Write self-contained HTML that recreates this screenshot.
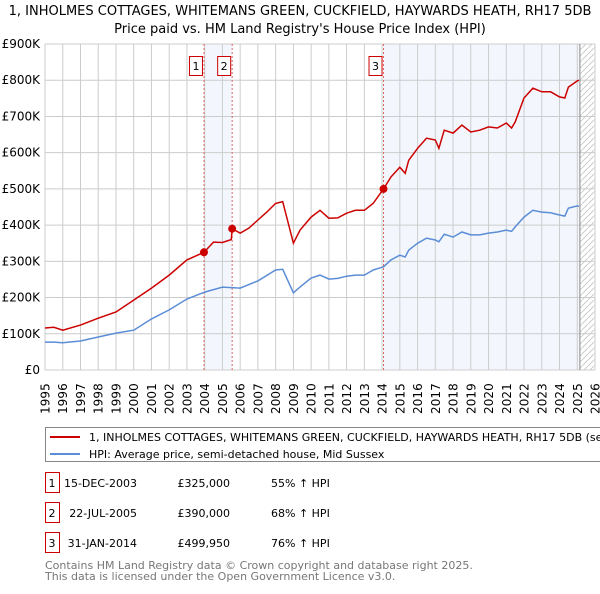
<!DOCTYPE html>
<html><head><meta charset="utf-8"><style>
body{margin:0;background:#fff;width:600px;height:590px;overflow:hidden;font-family:"DejaVu Sans","Liberation Sans",sans-serif}
svg text{font-family:"DejaVu Sans","Liberation Sans",sans-serif}
</style></head><body>
<svg id="chart" width="600" height="590" xmlns="http://www.w3.org/2000/svg">
<defs><pattern id="hatch" width="6" height="6" patternUnits="userSpaceOnUse"><line x1="0" y1="6" x2="6" y2="0" stroke="#ccc" stroke-width="1"/></pattern></defs>
<text x="300" y="15" font-size="13" text-anchor="middle">1, INHOLMES COTTAGES, WHITEMANS GREEN, CUCKFIELD, HAYWARDS HEATH, RH17 5DB</text>
<text x="300" y="33" font-size="13" text-anchor="middle">Price paid vs. HM Land Registry's House Price Index (HPI)</text>
<g id="plot"></g>
<rect x="45.5" y="427.5" width="570" height="34" fill="#fff" stroke="#888"/>
<line x1="50" y1="437" x2="80" y2="437" stroke="#cc0000" stroke-width="2"/>
<text x="89" y="441" font-size="11">1, INHOLMES COTTAGES, WHITEMANS GREEN, CUCKFIELD, HAYWARDS HEATH, RH17 5DB (semi-detached house)</text>
<line x1="50" y1="454" x2="80" y2="454" stroke="#5b8dd6" stroke-width="2"/>
<text x="89" y="458" font-size="11">HPI: Average price, semi-detached house, Mid Sussex</text>
<g id="table" font-size="11"></g>
<text x="45" y="569" font-size="11" fill="#777">Contains HM Land Registry data © Crown copyright and database right 2025.</text>
<text x="45" y="580" font-size="11" fill="#777">This data is licensed under the Open Government Licence v3.0.</text>
</svg>
<script>
const yTicks=[0,100,200,300,400,500,600,700,800,900];
const yTickLabels=["£0","£100K","£200K","£300K","£400K","£500K","£600K","£700K","£800K","£900K"];
const years=[1995,1996,1997,1998,1999,2000,2001,2002,2003,2004,2005,2006,2007,2008,2009,2010,2011,2012,2013,2014,2015,2016,2017,2018,2019,2020,2021,2022,2023,2024,2025,2026];
const hpiT=[1995,1995.5,1996,1997,1998,1999,2000,2001,2002,2003,2004,2005,2006,2007,2008,2008.4,2009,2009.37,2010,2010.5,2011,2011.5,2012,2012.5,2013,2013.5,2014.08,2014.5,2015,2015.3,2015.5,2016,2016.5,2017,2017.2,2017.5,2018,2018.5,2019,2019.5,2020,2020.5,2021,2021.3,2021.5,2022,2022.5,2023,2023.5,2024,2024.3,2024.5,2025,2025.1];
const hpiV=[77,77,75,80,91,102,110,141,166,196,215,229,226,246,276,278,213,229,254,262,251,253,259,262,262,276,285,304,317,312,331,350,364,359,354,375,367,381,373,373,378,381,386,383,395,422,441,436,434,428,425,447,453,452];
const propT=[1995,1995.5,1996,1997,1998,1999,2000,2001,2002,2003,2003.96,2004.5,2005,2005.5,2005.55,2006,2006.5,2007,2007.5,2008,2008.4,2009,2009.37,2010,2010.5,2011,2011.5,2012,2012.5,2013,2013.5,2014.08,2014.5,2015,2015.3,2015.5,2016,2016.5,2017,2017.2,2017.5,2018,2018.5,2019,2019.5,2020,2020.5,2021,2021.3,2021.5,2022,2022.5,2023,2023.5,2024,2024.3,2024.5,2025,2025.1];
const propV=[116,118,110,124,143,160,193,226,262,304,325,353,352,360,390,378,392,414,436,460,465,350,386,422,441,419,420,433,441,441,460,500,533,560,543,579,612,640,635,612,662,654,676,657,662,671,668,682,668,685,751,778,768,768,754,751,781,798,800];
const saleNum=["1","2","3"];
const saleT=[2003.96,2005.55,2014.08];
const saleV=[325,390,499.95];
const saleDate=["15-DEC-2003","22-JUL-2005","31-JAN-2014"];
const salePrice=["£325,000","£390,000","£499,950"];
const saleHpi=["55% ↑ HPI","68% ↑ HPI","76% ↑ HPI"];
const NS="http://www.w3.org/2000/svg";
const X0=45,X1=595,Y0=370,Y1=44;
const xs=t=>X0+(t-1995)/(2026-1995)*(X1-X0);
const ys=v=>Y0-v/900*(Y0-Y1);
const plot=document.getElementById('plot');
function mk(tag,attrs,parent){const e=document.createElementNS(NS,tag);for(const k in attrs)e.setAttribute(k,attrs[k]);(parent||plot).appendChild(e);return e;}
let b1=mk('rect',{x:xs(saleT[0]),y:Y1,width:xs(saleT[1])-xs(saleT[0]),height:Y0-Y1,fill:'#eef3fc',opacity:0.7});


let b2=mk('rect',{x:xs(saleT[2]),y:Y1,width:xs(2025.15)-xs(saleT[2]),height:Y0-Y1,fill:'#eef3fc',opacity:0.7});


let h=mk('rect',{x:xs(2025.15),y:Y1,width:X1-xs(2025.15),height:Y0-Y1,fill:'url(#hatch)'});


years.forEach(y=>{const l=mk('line',{x1:xs(y),x2:xs(y),y1:Y1,y2:Y0,stroke:'#ccc','stroke-width':1});


const s=String(y);const cx=(xs(y)+4.5).toFixed(1);
const xa=[],ya=[];for(let k=0;k<s.length;k++){xa.push(cx);ya.push((414-k*7.7).toFixed(1));}
const t=mk('text',{x:xa.join(' '),y:ya.join(' '),rotate:'-90','font-size':12});t.textContent=s;

});
yTicks.forEach((v,i)=>{const l=mk('line',{x1:X0,x2:X1,y1:ys(v),y2:ys(v),stroke:'#ccc','stroke-width':1});


const t=mk('text',{x:40,y:ys(v)+4,'font-size':12,'text-anchor':'end'});t.textContent=yTickLabels[i];

});
const nl=mk('line',{x1:xs(2025.15),x2:xs(2025.15),y1:Y1,y2:Y0,stroke:'#888','stroke-width':1});


saleT.forEach((t,i)=>{const l=mk('line',{x1:xs(t),x2:xs(t),y1:Y1,y2:Y0,stroke:'#e06666','stroke-width':1,'stroke-dasharray':'2,2'});


const r=mk('rect',{x:xs(t)-14.5,y:56.5,width:13,height:19,fill:'#fff',stroke:'#cc0000'});


const tx=mk('text',{x:xs(t)-8,y:70,'font-size':11,'text-anchor':'middle'});tx.textContent=saleNum[i];

});
function pts(T,V){return T.map((t,i)=>xs(t).toFixed(1)+','+ys(V[i]).toFixed(1)).join(' ');}
const hl=mk('polyline',{points:pts(hpiT,hpiV),fill:'none',stroke:'#5b8dd6','stroke-width':1.5});


const pl=mk('polyline',{points:pts(propT,propV),fill:'none',stroke:'#cc0000','stroke-width':1.5});


saleT.forEach((t,i)=>{const c=mk('circle',{cx:xs(t),cy:ys(saleV[i]),r:4,fill:'#cc0000'});

});
const tb=document.getElementById('table');
saleT.forEach((t,i)=>{const yc=483+i*30;
const r=mk('rect',{x:45.5,y:yc-10.5,width:14,height:20,fill:'#fff',stroke:'#cc0000'},tb);


const cells=[[52,saleNum[i],'middle'],[137,saleDate[i],'end'],[230,salePrice[i],'end'],[271,saleHpi[i],'start']];
cells.forEach(c=>{const e=mk('text',{x:c[0],y:yc+4,'text-anchor':c[2]},tb);e.textContent=c[1];

});});
</script>
</body></html>
